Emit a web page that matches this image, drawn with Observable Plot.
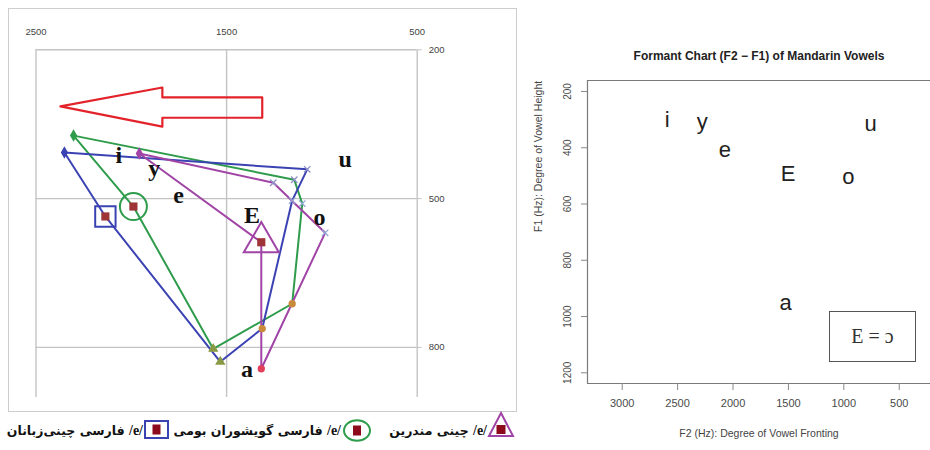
<!DOCTYPE html>
<html><head><meta charset="utf-8">
<script src="https://cdn.jsdelivr.net/npm/d3@7"></script>
<script src="https://cdn.jsdelivr.net/npm/@observablehq/plot@0.6"></script>
<style>
html,body{margin:0;padding:0;background:#fff;width:930px;height:450px;overflow:hidden;}
#root{position:relative;width:930px;height:450px;}
.abs{position:absolute;}
.lg{position:absolute;top:422px;direction:rtl;white-space:nowrap;font:bold 12.5px "DejaVu Sans",sans-serif;color:#111;line-height:18px;}
.lg .e{unicode-bidi:isolate;direction:ltr;font-family:"Liberation Serif",serif;font-size:14px;}
</style></head><body><div id="root"></div>
<script>
// ---------- Left chart data (F2, F1 in Hz) ----------
const leftXTicks = [2500, 1500, 500];
const leftYTicks = [200, 500, 800];
const leftXDomain = [2500, 500];
const leftYDomain = [200, 901];

const persianVowels = ["i", "u", "o", "ɑ", "æ", "e"];
const blueF2 = [2351, 1077, 1156, 1313, 1533, 2136];   // Chinese-speaking learners of Persian
const blueF1 = [407, 441, 504, 762, 829, 536];
const greenF2 = [2303, 1145, 1103, 1156, 1570, 1989];  // native Persian speakers
const greenF1 = [373, 462, 510, 712, 803, 516];

const mandarinVowels = ["i", "u", "o", "a", "ə"];
const purpleF2 = [1958, 1255, 983, 1318, 1318];        // Mandarin Chinese
const purpleF1 = [409, 468, 569, 843, 588];

const arrowF2 = [2372, 1837, 1837, 1313, 1313, 1837, 1837];
const arrowF1 = [314, 276, 296, 296, 337, 337, 355];

const leftLabelText = ["i", "y", "e", "E", "o", "u", "a"];
const leftLabelF2 = [2066, 1879, 1752, 1367, 1013, 878, 1393];
const leftLabelF1 = [413, 439, 494, 534, 538, 421, 844];

// ---------- Right chart data ----------
const rightTitle = "Formant Chart (F2 − F1) of Mandarin Vowels";
const rightXLabel = "F2 (Hz): Degree of Vowel Fronting";
const rightYLabel = "F1 (Hz): Degree of Vowel Height";
const rightXTicks = [3000, 2500, 2000, 1500, 1000, 500];
const rightYTicks = [200, 400, 600, 800, 1000, 1200];
const rightXDomain = [3313, 218];
const rightYDomain = [161, 1238];
const rightLabelText = ["i", "y", "e", "E", "o", "u", "a"];
const rightLabelF2 = [2594, 2278, 2074, 1502, 960, 759, 1526];
const rightLabelF1 = [303, 309, 408, 494, 503, 316, 953];
const rightNote = "E = ɔ";

// ---------- Legend ----------
const legendItems = [
  {text: "چینی مندرین", series: "purple"},
  {text: "فارسی گویشوران بومی", series: "green"},
  {text: "فارسی چینی‌زبانان", series: "blue"}
];

// ---------- Build ----------
const COL = {blue: "#3b43b3", green: "#2f9c4c", purple: "#a044a6", red: "#e3232b", fill: "#9e3338"};
const rows = (names, xs, ys, g) => names.map((v, i) => ({v, F2: xs[i], F1: ys[i], g}));
const blue = rows(persianVowels, blueF2, blueF1, "blue");
const green = rows(persianVowels, greenF2, greenF1, "green");
const purple = rows(mandarinVowels, purpleF2, purpleF1, "purple");
const arrow = arrowF2.map((x, i) => ({F2: x, F1: arrowF1[i]}));
const leftLabels = leftLabelText.map((t, i) => ({t, F2: leftLabelF2[i], F1: leftLabelF1[i]}));
const rightLabels = rightLabelText.map((t, i) => ({t, F2: rightLabelF2[i], F1: rightLabelF1[i]}));
const fmt = d => String(d);

const symbolOf = {i: "diamond", u: "times", o: "times", "ɑ": "circle", "æ": "triangle", a: "circle"};
const markColor = {i: null, u: "#8f8fc9", o: "#93a7d6", "ɑ": "#c98a3c", "æ": "#8a9a44", a: "#e0405a"};
const vertexMarks = (data, color) => data.filter(d => symbolOf[d.v]).map(d =>
  Plot.dot([d], {x: "F2", y: "F1", symbol: symbolOf[d.v], r: 3, stroke: markColor[d.v] || color,
    fill: symbolOf[d.v] === "times" ? "none" : (markColor[d.v] || color), strokeWidth: 1.3}));

const root = document.getElementById("root");

const frame = document.createElement("div");
frame.className = "abs";
frame.style.cssText = "left:8px;top:8px;width:507px;height:402px;border:1px solid #cdcdcd;";
root.appendChild(frame);

const left = Plot.plot({
  width: 516, height: 411,
  marginLeft: 35.5, marginRight: 99.3, marginTop: 49.3, marginBottom: 14,
  x: {domain: leftXDomain, label: null},
  y: {domain: leftYDomain, reverse: true, label: null},
  style: {background: "transparent", fontFamily: "'Liberation Sans', Arial, sans-serif", overflow: "visible"},
  marks: [
    Plot.gridX(leftXTicks, {stroke: "#c3c3c3", strokeOpacity: 1, strokeWidth: 1.4}),
    Plot.gridY(leftYTicks, {stroke: "#c3c3c3", strokeOpacity: 1, strokeWidth: 1.4}),
    Plot.axisX(leftXTicks, {anchor: "top", tickSize: 0, tickPadding: 15, fontSize: 9.5, color: "#444", label: null, tickFormat: fmt}),
    Plot.axisY(leftYTicks, {anchor: "right", tickSize: 4, tickPadding: 7.5, fontSize: 9.5, color: "#444", stroke: "#c3c3c3", label: null, tickFormat: fmt}),
    Plot.line(arrow, {x: "F2", y: "F1", curve: "linear-closed", stroke: COL.red, strokeWidth: 2.2}),
    Plot.line(green, {x: "F2", y: "F1", curve: "linear-closed", stroke: COL.green, strokeWidth: 2}),
    Plot.line(blue, {x: "F2", y: "F1", curve: "linear-closed", stroke: COL.blue, strokeWidth: 2}),
    Plot.line(purple, {x: "F2", y: "F1", curve: "linear-closed", stroke: COL.purple, strokeWidth: 2}),
    ...vertexMarks(green, COL.green),
    ...vertexMarks(blue, COL.blue),
    ...vertexMarks(purple, COL.purple),
    Plot.dot(blue.filter(d => d.v === "e"), {x: "F2", y: "F1", symbol: "square", r: 11.5, stroke: COL.blue, strokeWidth: 2, fill: "none"}),
    Plot.dot(green.filter(d => d.v === "e"), {x: "F2", y: "F1", symbol: "circle", r: 13.5, stroke: COL.green, strokeWidth: 2, fill: "none"}),
    Plot.dot(purple.filter(d => d.v === "ə"), {x: "F2", y: "F1", symbol: "triangle", r: 13, stroke: COL.purple, strokeWidth: 2, fill: "none"}),
    Plot.dot([...blue.filter(d => d.v === "e"), ...green.filter(d => d.v === "e"), ...purple.filter(d => d.v === "ə")],
      {x: "F2", y: "F1", symbol: "square", r: 4.6, fill: COL.fill, stroke: "none"}),
    Plot.text(leftLabels, {x: "F2", y: "F1", text: "t", fontSize: 24, fontWeight: "bold", fontFamily: "'Liberation Serif', 'Times New Roman', serif", fill: "#111"})
  ]
});
left.style.position = "absolute"; left.style.left = "0px"; left.style.top = "0px";
root.appendChild(left);

const right = Plot.plot({
  width: 410, height: 450,
  marginLeft: 67, marginRight: 0, marginTop: 80, marginBottom: 67,
  x: {domain: rightXDomain, label: null},
  y: {domain: rightYDomain, reverse: true, label: null},
  style: {background: "transparent", fontFamily: "'Liberation Sans', Arial, sans-serif", overflow: "visible"},
  marks: [
    Plot.ruleY([rightYDomain[0]], {stroke: "#7a7a7a", strokeWidth: 1.2}),
    Plot.ruleY([rightYDomain[1]], {stroke: "#7a7a7a", strokeWidth: 1.2}),
    Plot.ruleX([rightXDomain[0]], {stroke: "#7a7a7a", strokeWidth: 1.2}),
    Plot.axisX(rightXTicks, {anchor: "bottom", tickSize: 7, tickPadding: 9, fontSize: 11, color: "#4a4a4a", stroke: "#888", label: null, tickFormat: fmt}),
    Plot.axisY(rightYTicks, {anchor: "left", tickSize: 6, tickPadding: 11, tickRotate: -90, fontSize: 10, color: "#4a4a4a", stroke: "#888", label: null, tickFormat: fmt}),
    Plot.text(rightLabels, {x: "F2", y: "F1", text: "t", fontSize: 22, fill: "#222"}),
    Plot.text([rightTitle], {frameAnchor: "top", dy: -29, fontSize: 12, fontWeight: "bold", fill: "#222"}),
    Plot.text([rightXLabel], {frameAnchor: "bottom", dy: 53, fontSize: 10.5, fill: "#444"}),
    Plot.text([rightYLabel], {frameAnchor: "left", dx: -49, rotate: -90, fontSize: 10.5, fill: "#444"})
  ]
});
right.style.position = "absolute"; right.style.left = "520px"; right.style.top = "0px";
root.appendChild(right);

const note = document.createElement("div");
note.className = "abs";
note.style.cssText = "left:829px;top:311px;width:85px;height:49px;border:1.5px solid #555;font:20px 'Liberation Serif',serif;color:#333;display:flex;align-items:center;justify-content:center;background:#fff;";
note.textContent = rightNote;
root.appendChild(note);

// legend
const icons = {
  purple: {left: 487, top: 411, w: 28, h: 27, svg: `<polygon points="14,2 26,25 2,25" fill="none" stroke="${COL.purple}" stroke-width="2"/><rect x="9.5" y="14" width="9" height="9" fill="#8c0a1c"/>`},
  green: {left: 342, top: 419, w: 30, h: 23, svg: `<ellipse cx="15" cy="11.5" rx="13" ry="10.3" fill="none" stroke="${COL.green}" stroke-width="2"/><rect x="11" y="6.5" width="8" height="10" fill="#8c0a1c"/>`},
  blue: {left: 144, top: 420, w: 25, h: 19, svg: `<rect x="1" y="1" width="23" height="17" fill="none" stroke="${COL.blue}" stroke-width="2"/><rect x="8.5" y="4.5" width="8" height="10" fill="#8c0a1c"/>`}
};
const textRight = {purple: 443, green: 589, blue: 787};
legendItems.forEach(it => {
  const ic = icons[it.series];
  const s = document.createElementNS("http://www.w3.org/2000/svg", "svg");
  s.setAttribute("width", ic.w); s.setAttribute("height", ic.h);
  s.style.cssText = `position:absolute;left:${ic.left}px;top:${ic.top}px;`;
  s.innerHTML = ic.svg;
  root.appendChild(s);
  const t = document.createElement("div");
  t.className = "lg";
  t.style.right = textRight[it.series] + "px";
  t.innerHTML = `<span class="e">/e/</span> ${it.text}`;
  root.appendChild(t);
});
</script></body></html>
